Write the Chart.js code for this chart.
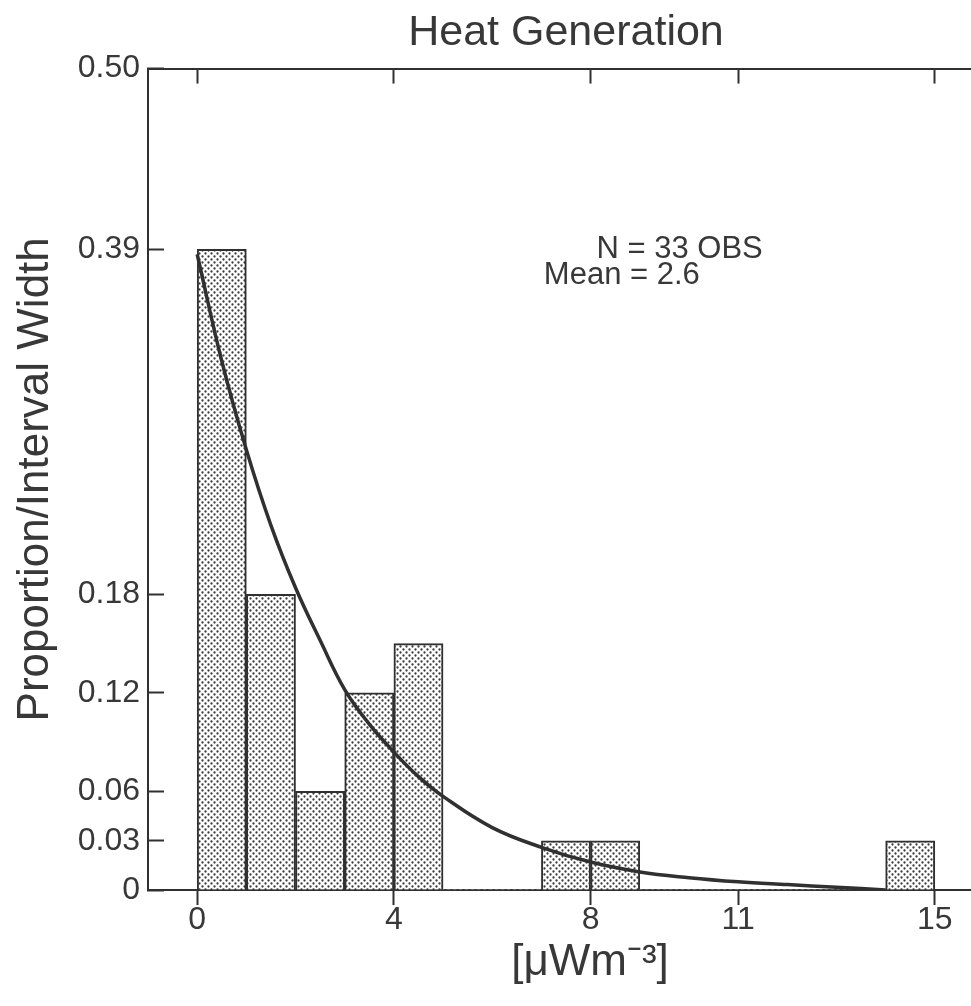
<!DOCTYPE html>
<html><head><meta charset="utf-8">
<script src="https://cdn.jsdelivr.net/npm/chart.js@4.4.0/dist/chart.umd.min.js"></script>
<style>html,body{margin:0;padding:0;background:#fff;overflow:hidden;}canvas{display:block;}</style>
</head><body>
<canvas id="c" width="990" height="1006"></canvas>
<script>
// ---- data ----
const chartTitle = 'Heat Generation';
const xAxisTitle = '[μWm⁻³]';
const yAxisTitle = 'Proportion/Interval Width';
const binStarts = [0, 1, 2, 3, 4, 5, 6, 7, 8, 9, 10, 11, 12, 13, 14];
const binValues = [0.39, 0.18, 0.06, 0.12, 0.15, 0, 0, 0.03, 0.03, 0, 0, 0, 0, 0, 0.03];
const curveX = [0, 0.5, 1, 1.5, 2, 2.5, 3, 3.5, 4, 4.5, 5, 6, 7, 8, 9, 10, 11, 12, 13, 14];
const curveY = [0.387, 0.322, 0.268, 0.222, 0.184, 0.152, 0.122, 0.101, 0.084, 0.069, 0.057, 0.038, 0.026, 0.017, 0.011, 0.0075, 0.005, 0.0033, 0.0017, 0.0];
const xTickValues = [0, 4, 8, 11, 15];
const yTickValues = [0, 0.03, 0.06, 0.12, 0.18, 0.39, 0.50];
const yTickLabels = ['0', '0.03', '0.06', '0.12', '0.18', '0.39', '0.50'];
const rightTickValues = [0.03, 0.06, 0.12, 0.18, 0.39];
const noteLines = ['N = 33 OBS', 'Mean = 2.6'];
const notePos = [[8.12, 0.39], [7.05, 0.374]];

// ---- styles ----
const ink = '#303030';
const textInk = '#383838';
const fam = '"Liberation Sans", Arial, Helvetica, sans-serif';

function stipple() {
  const c = document.createElement('canvas');
  c.width = 6; c.height = 6;
  const g = c.getContext('2d');
  g.fillStyle = '#ffffff'; g.fillRect(0, 0, 6, 6);
  g.fillStyle = '#3a3a3a';
  g.beginPath(); g.arc(1.5, 1.5, 1.15, 0, Math.PI * 2); g.fill();
  g.beginPath(); g.arc(4.5, 4.5, 1.15, 0, Math.PI * 2); g.fill();
  return document.getElementById('c').getContext('2d').createPattern(c, 'repeat');
}

const notesPlugin = {
  id: 'notes',
  afterDatasetsDraw(chart) {
    const {ctx, scales: {x, y}} = chart;
    ctx.save();
    ctx.fillStyle = textInk;
    ctx.font = '31px ' + fam;
    ctx.textAlign = 'left';
    ctx.textBaseline = 'middle';
    noteLines.forEach((t, i) => {
      ctx.fillText(t, x.getPixelForValue(notePos[i][0]), y.getPixelForValue(notePos[i][1]));
    });
    ctx.restore();
  },
  afterLayout(chart) {
    const xs = chart.scales.x;
    if (xs && !xs.__shifted) {
      const orig = xs.drawTitle.bind(xs);
      xs.drawTitle = function () {
        const c = this.ctx; c.save(); c.translate(24, 0); orig(); c.restore();
      };
      xs.__shifted = true;
    }
  }
};

const setTicks = (vals) => (s) => { s.ticks = vals.map(v => ({value: v})); };

new Chart(document.getElementById('c'), {
  data: {
    datasets: [
      {
        type: 'line',
        data: curveX.map((x, i) => ({x: x, y: curveY[i]})),
        borderColor: ink,
        borderWidth: 3.5,
        pointRadius: 0,
        fill: false,
        tension: 0.4,
        order: 0
      },
      {
        type: 'bar',
        data: binStarts.map((s, i) => ({x: s + 0.5, y: binValues[i]})),
        backgroundColor: stipple(),
        borderColor: ink,
        borderWidth: (c) => (c.raw && c.raw.y > 0 ? 2 : 0),
        borderSkipped: 'start',
        barPercentage: 1,
        categoryPercentage: 1,
        order: 1
      }
    ]
  },
  options: {
    responsive: false,
    animation: false,
    devicePixelRatio: 1,
    layout: {padding: 0},
    plugins: {
      legend: {display: false},
      tooltip: {enabled: false},
      title: {
        display: true, text: chartTitle, fullSize: false,
        color: textInk, font: {family: fam, size: 43, weight: 'normal'},
        padding: {top: 7, bottom: 10}
      }
    },
    scales: {
      x: {
        type: 'linear', position: 'bottom', min: -1, max: 16, offset: false,
        afterBuildTicks: setTicks(xTickValues),
        afterFit: (s) => { s.height = 116; },
        grid: {offset: false, drawOnChartArea: false, drawTicks: true, tickLength: 15, tickWidth: 2, tickColor: ink},
        border: {display: true, width: 2, color: ink},
        ticks: {font: {family: fam, size: 32}, color: textInk, padding: -4, maxRotation: 0, autoSkip: false},
        title: {display: true, text: xAxisTitle, color: textInk, font: {family: fam, size: 44}, padding: {top: 0, bottom: 17}}
      },
      xTop: {
        type: 'linear', position: 'top', min: -1, max: 16, offset: false,
        afterBuildTicks: setTicks(xTickValues),
        afterFit: (s) => { s.height = 0; },
        grid: {offset: false, drawOnChartArea: false, drawTicks: true, tickLength: -15, tickWidth: 2, tickColor: ink},
        border: {display: true, width: 2, color: ink},
        ticks: {display: false}
      },
      y: {
        type: 'linear', position: 'left', min: 0, max: 0.5,
        afterBuildTicks: setTicks(yTickValues),
        afterFit: (s) => { s.width = 148; },
        grid: {drawOnChartArea: false, drawTicks: true, tickLength: -16, tickWidth: 2, tickColor: ink},
        border: {display: true, width: 2, color: ink},
        ticks: {font: {family: fam, size: 32}, color: textInk, padding: 24, autoSkip: false,
                 callback: (v, i) => yTickLabels[i]},
        title: {display: true, text: yAxisTitle, color: textInk, font: {family: fam, size: 44}, padding: {top: 9, bottom: 0}}
      },
      yRight: {
        type: 'linear', position: 'right', min: 0, max: 0.5,
        afterBuildTicks: setTicks(rightTickValues),
        afterFit: (s) => { s.width = 6; },
        grid: {drawOnChartArea: false, drawTicks: true, tickLength: -12, tickWidth: 2, tickColor: ink},
        border: {display: true, width: 2, color: ink},
        ticks: {display: false}
      }
    }
  },
  plugins: [notesPlugin]
});
</script>
</body></html>
